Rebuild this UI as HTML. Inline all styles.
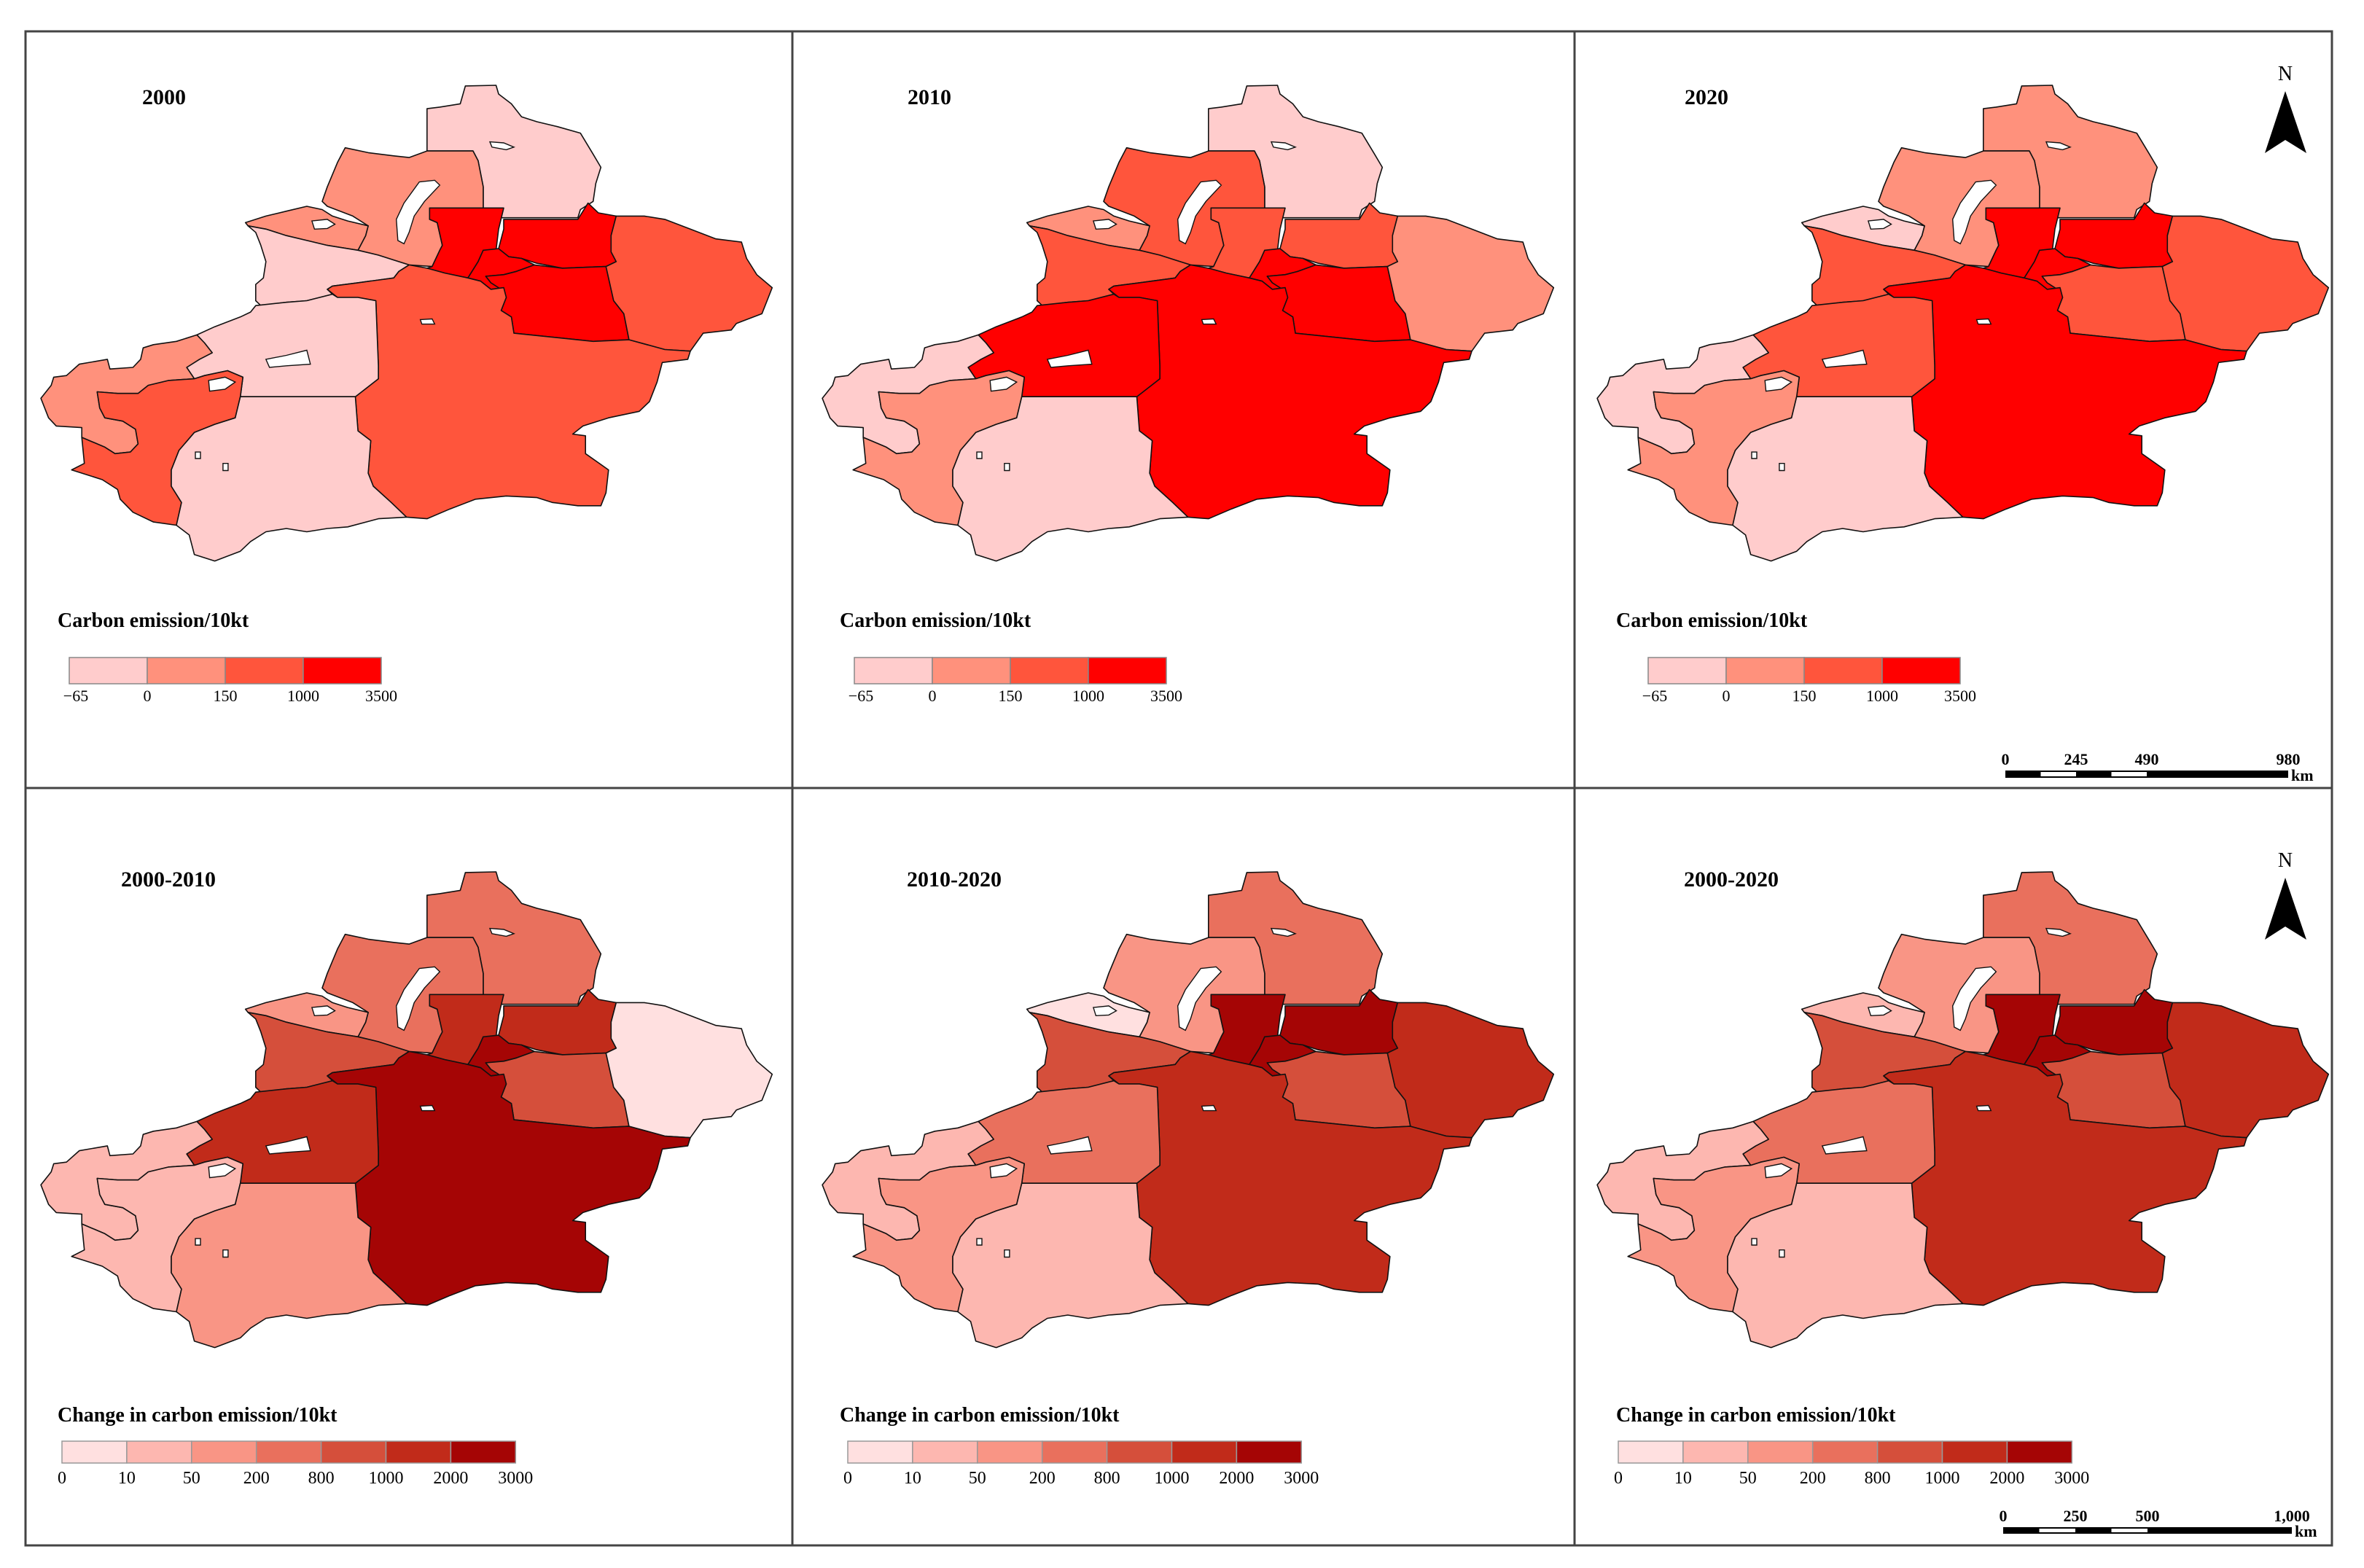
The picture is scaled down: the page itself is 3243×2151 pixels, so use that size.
<!DOCTYPE html>
<html><head><meta charset="utf-8">
<style>
html,body{margin:0;padding:0;background:#fff;}
svg{display:block;}
text{font-family:"Liberation Serif",serif;}
</style></head>
<body>
<svg id="fig" width="3243" height="2151" viewBox="0 0 3243 2151" xmlns="http://www.w3.org/2000/svg">
<rect x="0" y="0" width="3243" height="2151" fill="#fff"/>
<g id="maps"></g>
<g id="frames" fill="none" stroke="#444" stroke-width="3">
<rect x="35" y="43" width="3164" height="2077"/>
<line x1="35" y1="1081" x2="3199" y2="1081"/>
<line x1="1087" y1="43" x2="1087" y2="2120"/>
<line x1="2160" y1="43" x2="2160" y2="2120"/>
</g>
<g id="decor"></g>
</svg>
<script>
// ---- data ----
const regions = ["altay","tacheng","bortala","ili","changji-west","changji-east","urumqi","turpan","hami","bayingol","aksu","kizilsu","kashgar","hotan"];
const panelTitles = ["2000","2010","2020","2000-2010","2010-2020","2000-2020"];
const values2000 = [-20,85,60,-10,1200,1400,2100,1300,620,780,-15,40,310,-30];
const values2010 = [-25,420,90,380,650,700,2600,1600,120,1900,1100,-5,110,-18];
const values2020 = [70,130,-8,520,1500,1700,3100,900,800,2800,850,-12,140,-20];
const change2000to2010 = [450,380,150,880,1400,1300,2300,950,4,2200,1100,30,25,120];
const change2010to2020 = [400,160,6,900,2200,2400,2600,850,1200,1600,600,20,130,35];
const change2000to2020 = [520,180,40,920,2300,2500,2700,880,1300,1700,700,35,140,40];
const emissionBreaks = [-65,0,150,1000,3500];
const emissionTickLabels = ["\u221265","0","150","1000","3500"];
const changeBreaks = [0,10,50,200,800,1000,2000,3000];
const changeTickLabels = ["0","10","50","200","800","1000","2000","3000"];
const scaleLabelsTop = ["0","245","490","980"];
const scaleLabelsBottom = ["0","250","500","1,000"];

// ---- style ----
const emissionColors = ["#ffcccc","#ff917c","#ff553c","#ff0000"];
const changeColors = ["#ffe0e0","#fdb7b0","#f99585","#e9705d","#d54f3b","#c12b1a","#a50505"];

const shapes = {
"altay":[[835,110],[860,105],[900,95],[910,40],[970,38],[975,65],[1000,95],[1020,135],[1050,150],[1090,165],[1135,185],[1160,250],[1175,290],[1165,340],[1160,395],[1135,420],[1130,445],[945,445],[945,350],[935,270],[925,240],[835,240]],
"tacheng":[[675,230],[720,245],[770,255],[800,260],[835,240],[925,240],[935,270],[945,350],[945,415],[840,415],[840,450],[855,460],[865,530],[860,545],[845,595],[800,590],[770,575],[740,560],[700,545],[715,500],[720,470],[690,440],[640,410],[630,395],[640,350],[660,275]],
"bortala":[[480,460],[520,440],[560,425],[600,410],[630,420],[650,440],[680,455],[720,470],[715,500],[700,545],[640,530],[600,515],[560,500],[520,480],[485,470]],
"ili":[[485,470],[520,480],[560,500],[600,515],[640,530],[700,545],[740,560],[770,575],[800,590],[780,610],[770,630],[700,645],[650,655],[640,665],[650,680],[600,700],[560,705],[510,715],[500,700],[500,650],[515,630],[520,580],[510,530],[500,490]],
"changji-west":[[840,415],[985,415],[975,480],[970,545],[945,545],[935,580],[915,630],[870,615],[835,600],[845,595],[860,545],[865,530],[855,460],[840,450]],
"changji-east":[[985,450],[1130,450],[1150,400],[1170,430],[1205,440],[1195,500],[1195,550],[1205,580],[1185,595],[1100,600],[1050,585],[1020,570],[995,565],[975,540],[985,480]],
"urumqi":[[945,545],[975,540],[995,565],[1020,570],[1045,590],[1010,610],[985,620],[950,625],[960,645],[985,660],[960,665],[940,640],[915,630],[935,580]],
"turpan":[[1045,590],[1100,600],[1185,595],[1200,700],[1220,740],[1230,820],[1160,825],[1005,800],[1000,750],[980,730],[990,690],[980,665],[960,645],[950,625],[985,620],[1010,610]],
"hami":[[1205,440],[1260,440],[1300,450],[1350,480],[1400,510],[1450,520],[1460,570],[1480,620],[1510,660],[1500,700],[1490,740],[1440,770],[1430,790],[1375,800],[1350,855],[1300,850],[1230,820],[1220,740],[1200,700],[1185,595],[1205,580],[1195,550],[1195,500]],
"bayingol":[[640,665],[650,655],[700,645],[770,630],[780,610],[800,590],[835,600],[870,615],[915,630],[940,640],[960,665],[985,660],[990,690],[980,730],[1000,750],[1005,800],[1160,825],[1230,820],[1300,850],[1350,855],[1345,880],[1295,890],[1285,950],[1270,1010],[1250,1040],[1190,1060],[1140,1085],[1120,1110],[1145,1115],[1145,1170],[1190,1220],[1185,1290],[1175,1330],[1130,1330],[1080,1320],[1050,1305],[990,1300],[930,1310],[880,1340],[835,1370],[795,1365],[765,1320],[730,1270],[720,1230],[725,1130],[700,1100],[695,995],[740,940],[740,900],[735,700],[700,690],[660,690]],
"aksu":[[500,715],[560,705],[600,700],[650,680],[660,690],[700,690],[735,700],[740,900],[740,940],[695,995],[470,995],[475,935],[445,915],[400,930],[380,940],[365,905],[390,880],[415,860],[400,830],[385,805],[420,780],[470,750],[490,735]],
"kizilsu":[[385,805],[400,830],[415,860],[390,880],[365,905],[380,940],[330,945],[290,960],[270,985],[230,985],[190,980],[195,1030],[205,1060],[240,1070],[265,1095],[270,1140],[255,1165],[225,1170],[205,1150],[160,1120],[160,1090],[110,1085],[95,1060],[80,1000],[100,960],[105,935],[130,930],[155,895],[210,880],[215,910],[260,905],[275,880],[280,845],[300,835],[345,825]],
"kashgar":[[380,940],[400,930],[445,915],[475,935],[470,995],[460,1060],[420,1080],[380,1105],[350,1160],[335,1220],[335,1270],[355,1320],[345,1390],[300,1380],[260,1350],[235,1310],[230,1280],[200,1250],[140,1220],[165,1200],[160,1120],[205,1150],[225,1170],[255,1165],[270,1140],[265,1095],[240,1070],[205,1060],[195,1030],[190,980],[230,985],[270,985],[290,960],[330,945]],
"hotan":[[470,995],[695,995],[700,1100],[725,1130],[720,1230],[730,1270],[765,1320],[795,1365],[740,1370],[680,1395],[640,1400],[600,1410],[560,1400],[520,1410],[490,1440],[470,1470],[420,1500],[380,1480],[370,1420],[345,1390],[355,1320],[335,1270],[335,1220],[350,1160],[380,1105],[420,1080],[460,1060]]
};
const lakes = [
[[610,455],[640,450],[655,465],[640,478],[615,480]],
[[820,335],[850,330],[860,345],[830,395],[810,440],[800,490],[790,525],[778,515],[775,450],[790,400]],
[[520,880],[560,868],[600,852],[607,895],[560,900],[527,905]],
[[408,945],[440,935],[460,950],[440,972],[410,978]],
[[958,212],[985,215],[1005,228],[990,236],[962,228]],
[[822,758],[845,756],[850,772],[825,772]],
[[382,1165],[392,1165],[392,1185],[382,1185]],
[[436,1200],[446,1200],[446,1222],[436,1222]]
];
const panelOffsets = [[0,0],[1072,0],[2135,0],[0,1079],[1072,1079],[2135,1079]];
const panelValues = [values2000,values2010,values2020,change2000to2010,change2010to2020,change2000to2020];

const NS = "http://www.w3.org/2000/svg";
function mk(tag, attrs, parent){const e=document.createElementNS(NS,tag);for(const k in attrs)e.setAttribute(k,attrs[k]);parent.appendChild(e);return e;}
function classify(v, breaks){for(let i=1;i<breaks.length;i++){if(v<=breaks[i])return i-1;}return breaks.length-2;}
function px(ox,dx){return ox/1.4255+dx;}
function py(oy,dy){return 100+oy/2.24+dy;}
function pts(arr,dx,dy){return arr.map(p=>px(p[0],dx).toFixed(1)+","+py(p[1],dy).toFixed(1)).join(" ");}

const maps = document.getElementById("maps");
const decor = document.getElementById("decor");

panelOffsets.forEach((off,pi)=>{
  const g = mk("g",{},maps);
  
  
  const isChange = pi>=3;
  regions.forEach((r,ri)=>{
    const v = panelValues[pi][ri];
    const col = isChange ? changeColors[classify(v,changeBreaks)] : emissionColors[classify(v,emissionBreaks)];
    const p = mk("polygon",{points:pts(shapes[r],off[0],off[1]),fill:col,stroke:"#111","stroke-width":"1.6","stroke-linejoin":"round"},g);
    
    
  });
  lakes.forEach((l,li)=>{
    const p = mk("polygon",{points:pts(l,off[0],off[1]),fill:"#fff",stroke:"#111","stroke-width":"1.4"},g);
    
    
  });
});

const titleX = [195,1245,2311,166,1244,2310];
panelTitles.forEach((t,i)=>{
  const y = i<3 ? 143 : 1216;
  const e = mk("text",{x:titleX[i],y:y,"font-size":"30","font-weight":"bold",fill:"#000"},decor);
  e.textContent = t;
  
  
});

const legendTitleDx = [0,1073,2138];
const topLegendDx = [0,1077,2166];
const botLegendDx = [0,1078,2135];
[0,1,2].forEach(i=>{
  const dx = topLegendDx[i];
  const t = mk("text",{x:79+legendTitleDx[i],y:860,"font-size":"28","font-weight":"bold",fill:"#000"},decor);
  t.textContent = "Carbon emission/10kt";
  
  
  const x0 = 95+dx, w = 107;
  emissionColors.forEach((c,k)=>{
    const r = mk("rect",{x:x0+k*w,y:902,width:w,height:36,fill:c,stroke:"#888","stroke-width":"1.5"},decor);
    
    
  });
  emissionTickLabels.forEach((s,k)=>{
    const lx = x0+k*w + (k===0?9:0);
    const e = mk("text",{x:lx,y:962,"font-size":"22","text-anchor":"middle",fill:"#000"},decor);
    e.textContent = s;
    
    
  });
});
[0,1,2].forEach(i=>{
  const dx = botLegendDx[i];
  const t = mk("text",{x:79+legendTitleDx[i],y:1950,"font-size":"28","font-weight":"bold",fill:"#000"},decor);
  t.textContent = "Change in carbon emission/10kt";
  
  
  const x0 = 85+dx, w = 88.9;
  changeColors.forEach((c,k)=>{
    const r = mk("rect",{x:x0+k*w,y:1977,width:w,height:30,fill:c,stroke:"#999","stroke-width":"1.5"},decor);
    
    
  });
  changeTickLabels.forEach((s,k)=>{
    const e = mk("text",{x:x0+k*w,y:2035,"font-size":"24","text-anchor":"middle",fill:"#000"},decor);
    e.textContent = s;
    
    
  });
});

[0,1079].forEach(dy=>{
  const n = mk("text",{x:3135,y:110+dy,"font-size":"28","text-anchor":"middle",fill:"#000"},decor);
  n.textContent = "N";
  
  
  const a = mk("polygon",{points:`3135,${125+dy} 3164,${210+dy} 3135,${192+dy} 3107,${210+dy}`,fill:"#000"},decor);
  
  
});

function scaleBar(x0,x1,y,h,labels,ly){
  const seg = (x1-x0)/4;
  const b = mk("rect",{x:x0,y:y,width:x1-x0,height:h,fill:"#000"},decor);
  
  
  [0.5,1.5].forEach(s=>{
    const w = mk("rect",{x:x0+s*seg,y:y+2,width:seg/2,height:h-4,fill:"#fff"},decor);
    
    
  });
  const pos=[0,1,2,4];
  labels.forEach((s,k)=>{
    const e = mk("text",{x:x0+pos[k]*seg,y:ly,"font-size":"22","font-weight":"bold","text-anchor":"middle",fill:"#000"},decor);
    e.textContent = s;
    
    
  });
  const km = mk("text",{x:x1+4,y:y+h+4,"font-size":"22","font-weight":"bold",fill:"#000"},decor);
  km.textContent = "km";
  
  
}
scaleBar(2751,3139,1057,10,scaleLabelsTop,1049);
scaleBar(2748,3144,2095,9,scaleLabelsBottom,2087);
</script>
</body></html>
